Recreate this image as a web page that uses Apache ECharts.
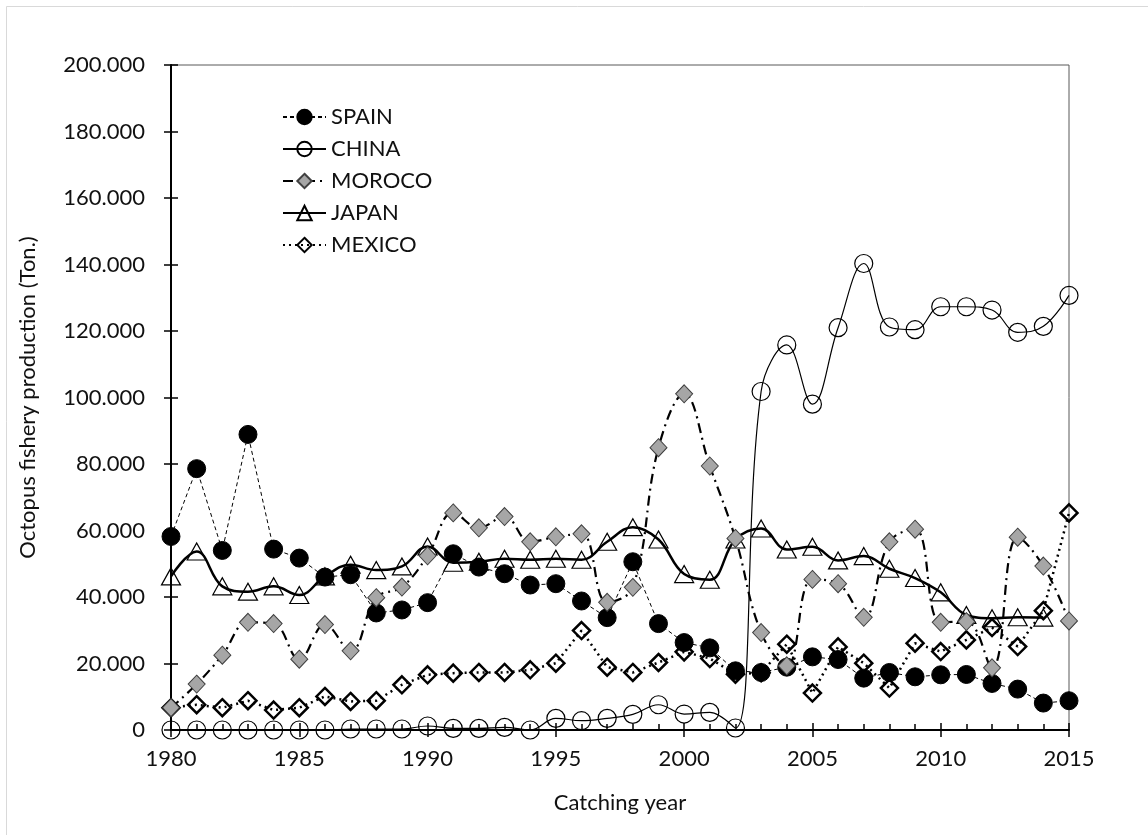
<!DOCTYPE html>
<html>
<head>
<meta charset="utf-8">
<script src="https://cdn.jsdelivr.net/npm/echarts@6/dist/echarts.min.js"></script>
<style>
html,body{margin:0;padding:0;background:#fff;}
#chart{width:1148px;height:835px;}
</style>
</head>
<body>
<div id="chart"></div>
<script>
// Data (thousand tons)
const years = [1980,1981,1982,1983,1984,1985,1986,1987,1988,1989,1990,1991,1992,1993,1994,1995,1996,1997,1998,1999,2000,2001,2002,2003,2004,2005,2006,2007,2008,2009,2010,2011,2012,2013,2014,2015];
const spain  = [58.2,78.6,54.0,88.9,54.4,51.7,46.0,46.7,35.2,36.1,38.3,53.0,49.0,47.0,43.6,44.0,38.8,33.8,50.6,32.0,26.3,24.7,17.8,17.3,18.9,22.0,21.2,15.6,17.3,16.0,16.6,16.7,14.0,12.3,8.1,8.8];
const china  = [0,0,0,0,0,0,0,0.3,0.3,0.3,1.2,0.5,0.5,0.8,0,3.5,2.8,3.5,4.7,7.6,4.8,5.3,0.6,101.8,115.8,98.0,121.0,140.3,121.2,120.4,127.3,127.3,126.3,119.6,121.4,130.7];
const moroco = [6.7,13.8,22.5,32.4,32.0,21.3,31.7,23.8,39.8,43.0,52.4,65.3,60.8,64.2,56.6,58.1,59.0,38.4,42.9,84.9,101.1,79.4,57.6,29.3,19.3,45.3,44.0,33.9,56.6,60.4,32.4,32.6,18.7,58.0,49.3,32.8];
const japan  = [46.2,53.7,43.2,41.6,43.2,40.6,46.2,49.7,48.1,49.2,55.2,50.3,50.6,51.5,51.2,51.5,51.2,56.6,61.0,57.3,46.9,45.2,57.3,60.6,54.3,55.1,51.0,52.3,48.5,45.7,41.4,34.6,33.6,33.9,33.8,null];
const mexico = [6.7,7.6,6.7,8.8,6.0,6.7,10.1,8.6,8.8,13.6,16.6,17.1,17.3,17.3,18.1,20.1,29.9,18.9,17.3,20.3,23.5,21.5,16.8,17.2,25.8,11.1,25.0,20.1,12.6,26.1,23.6,27.1,30.8,25.1,35.9,65.3];
const seriesNames = ['SPAIN','CHINA','MOROCO','JAPAN','MEXICO'];
const xAxisTitle = 'Catching year';
const yAxisTitle = 'Octopus fishery production (Ton.)';

const pairs = arr => years.map((y,i) => [y, arr[i]]);
const FONT = 'Lato';
const FS = 22;
const chart = echarts.init(document.getElementById('chart'), null, {renderer:'canvas'});

const yBase = {type:'value', min:0, max:200, interval:20, position:'left'};
const xBase = {type:'value', min:1980, max:2015, interval:5, position:'bottom'};

chart.setOption({
  animation:false,
  backgroundColor:'#fff',
  textStyle:{fontFamily:FONT},
  graphic:[{type:'rect', shape:{x:6.5,y:6.5,width:1160,height:850}, style:{fill:'none', stroke:'#d9d9d9', lineWidth:1}, silent:true}],
  grid:{left:171, right:79, top:65, bottom:105, show:true, borderColor:'#595959', borderWidth:1},
  legend:{
    data:seriesNames, orient:'vertical', left:282, top:106, padding:0,
    itemWidth:43, itemHeight:18, itemGap:10,
    textStyle:{fontFamily:FONT, fontSize:FS, color:'#111'}
  },
  xAxis:[
    Object.assign({}, xBase, {
      name:xAxisTitle, nameLocation:'middle', nameGap:62,
      nameTextStyle:{fontFamily:FONT, fontSize:FS, color:'#111'},
      axisLine:{onZero:false, lineStyle:{color:'#000', width:2}},
      axisTick:{show:true, inside:false, length:7, lineStyle:{color:'#000', width:1.5}},
      axisLabel:{fontFamily:FONT, fontSize:FS, color:'#111', margin:18, formatter:v => String(v)},
      splitLine:{show:false}
    }),
    Object.assign({}, xBase, {
      axisLine:{show:false, onZero:false},
      axisTick:{show:true, inside:true, length:7, lineStyle:{color:'#000', width:1.5}},
      minorTick:{show:true, splitNumber:5, length:6, lineStyle:{color:'#000', width:1.5}},
      axisLabel:{show:false}, splitLine:{show:false}
    })
  ],
  yAxis:[
    Object.assign({}, yBase, {
      name:yAxisTitle, nameLocation:'middle', nameGap:132,
      nameTextStyle:{fontFamily:FONT, fontSize:FS, color:'#111'},
      axisLine:{show:true, onZero:false, lineStyle:{color:'#000', width:2}},
      axisTick:{show:true, inside:false, length:7, lineStyle:{color:'#000', width:1.5}},
      axisLabel:{fontFamily:FONT, fontSize:FS, color:'#111', margin:26,
        formatter:v => v === 0 ? '0' : v.toFixed(3)},
      splitLine:{show:false}
    }),
    Object.assign({}, yBase, {
      axisLine:{show:false, onZero:false},
      axisTick:{show:true, inside:true, length:7, lineStyle:{color:'#000', width:1.5}},
      axisLabel:{show:false}, splitLine:{show:false}
    })
  ],
  series:[
    {name:'MEXICO', type:'line', data:pairs(mexico), z:2,
     symbol:'diamond', symbolSize:[17,17],
     lineStyle:{color:'#000', width:2.5, type:[2,4]},
     itemStyle:{color:'rgba(255,255,255,0)', borderColor:'#000', borderWidth:2.5}},
    {name:'JAPAN', type:'line', data:pairs(japan), z:3, smooth:0.4, connectNulls:false,
     symbol:'triangle', symbolSize:[19,17],
     lineStyle:{color:'#000', width:2.5},
     itemStyle:{color:'rgba(255,255,255,0)', borderColor:'#000', borderWidth:1.2}},
    {name:'CHINA', type:'line', data:pairs(china), z:4, smooth:0.4,
     symbol:'circle', symbolSize:18,
     lineStyle:{color:'#000', width:1.2},
     itemStyle:{color:'rgba(255,255,255,0)', borderColor:'#000', borderWidth:1.2}},
    {name:'SPAIN', type:'line', data:pairs(spain), z:5,
     symbol:'circle', symbolSize:18,
     lineStyle:{color:'#000', width:1, type:[4,3]},
     itemStyle:{color:'#000', borderColor:'#000', borderWidth:1}},
    {name:'MOROCO', type:'line', data:pairs(moroco), z:6, smooth:0.4,
     symbol:'diamond', symbolSize:[17,18],
     lineStyle:{color:'#000', width:2.2, type:[10,5,2,5]},
     itemStyle:{color:'#a6a6a6', borderColor:'#404040', borderWidth:1}}
  ]
});
</script>
</body>
</html>
